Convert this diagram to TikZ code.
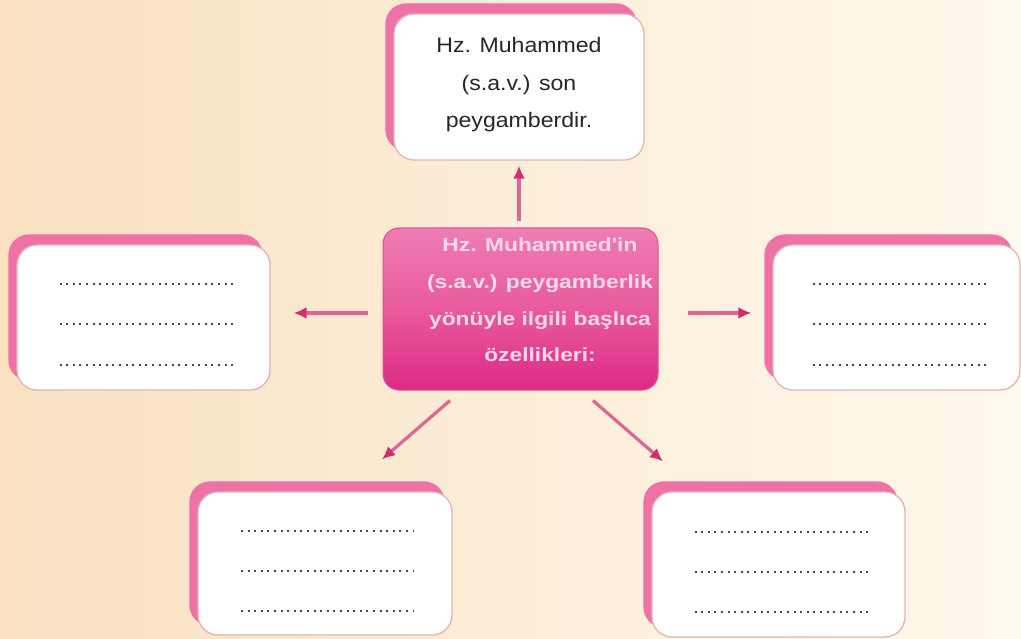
\documentclass[tikz,border=0pt]{standalone}
\usepackage{fontspec}
\setmainfont{Liberation Sans}
\newfontfamily\topfont[FakeStretch=1.1]{Liberation Sans}
\newfontfamily\midfont[FakeStretch=1.2]{Liberation Sans}
\usetikzlibrary{arrows.meta,shadows}
\definecolor{bgL}{HTML}{F9E1C1}
\definecolor{bgR}{HTML}{FEF9EE}
\definecolor{boxpink}{HTML}{EE72A5}
\definecolor{boxedge}{HTML}{E2B3B8}
\definecolor{cTop}{HTML}{EF7DB4}
\definecolor{cMid}{HTML}{E95A9E}
\definecolor{cBot}{HTML}{DC2B84}
\definecolor{cEdge}{HTML}{D9509A}
\definecolor{ctext}{HTML}{FCD9EA}
\definecolor{arrshaft}{HTML}{DE6695}
\definecolor{arrhead}{HTML}{D22E6F}
\definecolor{dotc}{HTML}{4A4A4A}
\definecolor{toptext}{HTML}{262626}
\tikzset{
  whitebox/.style={draw=boxedge, line width=1.3pt, fill=white, rounded corners=20pt,
    inner sep=0pt,
    copy shadow={shadow xshift=-8pt, shadow yshift=10pt, fill=boxpink, draw=boxpink}},
  hubbox/.style={rounded corners=16pt, top color=cTop, bottom color=cBot, middle color=cMid,
    draw=cEdge, line width=1pt, inner sep=0pt},
  hubtxt/.style={align=center, text=ctext, font=\midfont\bfseries\fontsize{19}{36.6}\selectfont},
  toptxt/.style={align=center, text=toptext, font=\topfont\fontsize{21}{37.5}\selectfont},
  arr/.style={draw=arrshaft, line width=3.2pt, -{Latex[length=13pt,width=12pt,color=arrhead]}},
  dotline/.style={draw=dotc, line width=2pt, dash pattern=on 2pt off 4.6pt}
}
\newcommand{\dotrows}[1]{%
  \foreach \dy in {-33,7,47} {\draw[dotline] ([shift={(-84,\dy)}]#1.center) -- ++(173,0);}}
\begin{document}
\begin{tikzpicture}[x=1pt,y=-1pt]
\useasboundingbox (0,0) rectangle (1021,639);
\shade[left color=bgL, right color=bgR] (0,0) rectangle (1021,639);

\node[whitebox, minimum width=250pt, minimum height=146pt] (topbox) at (519,87) {};
\node[toptxt] (toptext) at (519,85) {Hz. Muhammed\\(s.a.v.) son\\peygamberdir.};

\node[whitebox, minimum width=253pt, minimum height=145pt] (leftbox) at (143.5,317.5) {};
\node[whitebox, minimum width=247pt, minimum height=145pt] (rightbox) at (896.5,317.5) {};
\node[whitebox, minimum width=254pt, minimum height=143pt] (blbox) at (325,563.5) {};
\node[whitebox, minimum width=253pt, minimum height=145pt] (brbox) at (778.5,564.5) {};

\dotrows{leftbox}
\dotrows{rightbox}
\dotrows{blbox}
\dotrows{brbox}

\node[hubbox, minimum width=275pt, minimum height=162pt] (hub) at (520.5,309) {};
\node[hubtxt] (hubtext) at (540,300) {Hz. Muhammed'in\\(s.a.v.) peygamberlik\\yönüyle ilgili başlıca\\özellikleri:};

\draw[arr] ([xshift=-1.5pt,yshift=6pt]hub.north) -- ([yshift=-5pt]topbox.south);
\draw[arr] ([xshift=-15pt,yshift=-4pt]hub.west) -- ([xshift=23pt,yshift=4.5pt]leftbox.east);
\draw[arr] ([xshift=29pt,yshift=-4pt]hub.east) -- ([xshift=-21pt,yshift=4.5pt]rightbox.west);
\draw[arr] ([xshift=-70.5pt,yshift=-10pt]hub.south) -- ([xshift=57pt,yshift=32pt]blbox.north);
\draw[arr] ([xshift=72.5pt,yshift=-10pt]hub.south) -- ([xshift=-115.5pt,yshift=30pt]brbox.north);
\end{tikzpicture}
\end{document}
